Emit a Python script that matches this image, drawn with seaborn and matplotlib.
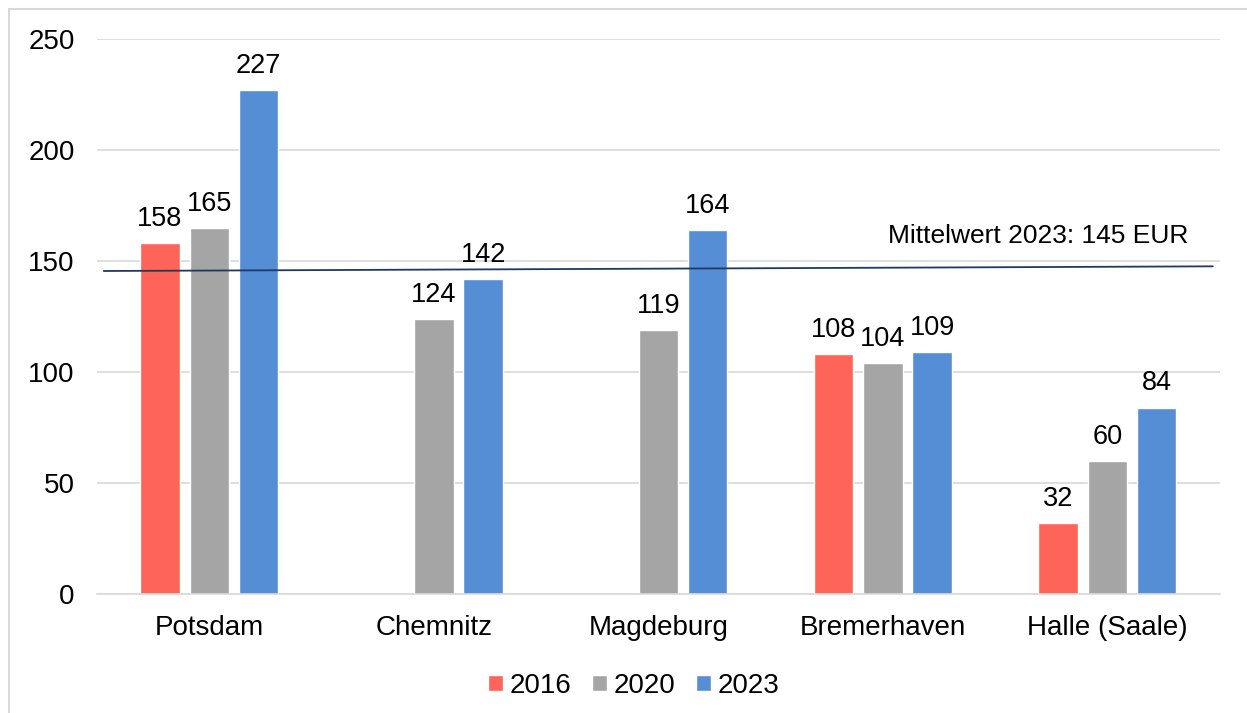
import matplotlib.pyplot as plt
import matplotlib.patches as mpatches
import numpy as np
import pandas as pd
import seaborn as sns

staedte = ['Potsdam', 'Chemnitz', 'Magdeburg', 'Bremerhaven', 'Halle (Saale)']
jahre = ['2016', '2020', '2023']
werte_2016 = [158, np.nan, np.nan, 108, 32]
werte_2020 = [165, 124, 119, 104, 60]
werte_2023 = [227, 142, 164, 109, 84]
mittelwert_text = 'Mittelwert 2023: 145 EUR'
mittelwert_linie = [145.5, 147.6]  # line is slightly tilted in the original
farben = ['#FF6459', '#A5A5A5', '#558ED5']

rows = []
for jahr, werte in zip(jahre, [werte_2016, werte_2020, werte_2023]):
    for stadt, w in zip(staedte, werte):
        rows.append({'Stadt': stadt, 'Jahr': jahr, 'Wert': w})
df = pd.DataFrame(rows)

sns.set_style('white')
plt.rcParams['font.family'] = ['Liberation Sans', 'DejaVu Sans']
plt.rcParams['text.color'] = 'black'
plt.rcParams['xtick.color'] = 'black'
plt.rcParams['ytick.color'] = 'black'

fig = plt.figure(figsize=(12.47, 7.13), dpi=100)
ax = fig.add_axes([0.0778, 0.1669, 0.9002, 0.7784])

sns.barplot(data=df, x='Stadt', y='Wert', hue='Jahr', palette=farben,
            width=0.66, gap=0.2, saturation=1, ax=ax, legend=True)

for cont in ax.containers:
    labels = ['' if np.isnan(v) else '%d' % v for v in cont.datavalues]
    ax.bar_label(cont, labels=labels, padding=8, fontsize=19.5)

ax.set_ylim(0, 250)
ax.set_xlim(-0.5, 4.5)
ax.set_yticks(range(0, 251, 50))
ax.yaxis.grid(True, color='#D9D9D9', linewidth=1.2)
ax.set_axisbelow(True)
for s in ['top', 'right', 'left']:
    ax.spines[s].set_visible(False)
ax.spines['bottom'].set_color('#D9D9D9')
ax.spines['bottom'].set_linewidth(1.2)
ax.tick_params(axis='y', length=0, pad=16, labelsize=20)
ax.tick_params(axis='x', length=0, pad=15, labelsize=20)
ax.set_xlabel('')
ax.set_ylabel('')

ax.plot([-0.47, 4.47], mittelwert_linie, color='#203864', linewidth=1.3)
ax.text(4.36, 156, mittelwert_text, ha='right', va='bottom', fontsize=19)

ax.legend(loc='upper center', bbox_to_anchor=(0.478, -0.097), ncol=3, frameon=False,
          fontsize=20, handlelength=0.55, handleheight=0.55, handletextpad=0.22,
          columnspacing=0.75)

fig.patches.append(mpatches.Rectangle((9 / 1247, -0.1), 1.2, 1 - 9 / 713 + 0.1,
                                      transform=fig.transFigure, fill=False,
                                      edgecolor='#D9D9D9', linewidth=1.5))

fig.savefig('out.png', dpi=100)
